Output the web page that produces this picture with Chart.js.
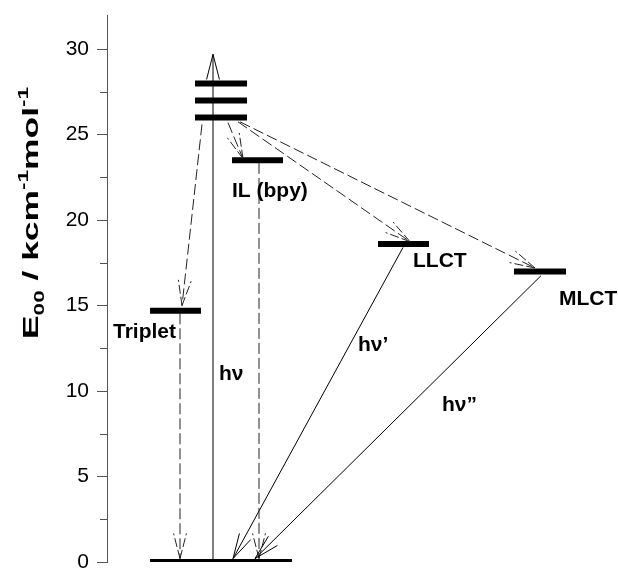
<!DOCTYPE html>
<html>
<head>
<meta charset="utf-8">
<script src="https://cdn.jsdelivr.net/npm/chart.js@4.4.0/dist/chart.umd.min.js"></script>
<style>
  html, body { margin: 0; padding: 0; background: #fff; }
  #wrap { width: 618px; height: 570px; }
</style>
</head>
<body>
<div id="wrap"><canvas id="levels"></canvas></div>
<script>
// energy levels: E00 in kcm-1mol-1, x is only horizontal placement (0..100)
const levelNames  = ['ground', 'S1', 'S2', 'S3', 'IL (bpy)', 'Triplet', 'LLCT', 'MLCT'];
const levelEnergy = [0, 26, 27, 28, 23.5, 14.7, 18.6, 17.0];
const levelFrom   = [8.6, 17.6, 17.6, 17.6, 25.0, 8.6, 54.2, 81.4];
const levelTo     = [37.0, 28.0, 28.0, 28.0, 35.2, 18.8, 64.4, 91.8];

// transitions between levels (start -> arrow tip)
const arrowFromX  = [21.2, 19.0, 24.2, 26.2, 26.6, 14.6, 30.4, 59.2, 86.8];
const arrowFromE  = [0, 25.6, 25.7, 25.75, 25.75, 14.55, 23.35, 18.4, 16.75];
const arrowToX    = [21.2, 15.0, 27.2, 60.6, 85.6, 14.6, 30.4, 25.2, 29.6];
const arrowToE    = [29.7, 15.0, 23.6, 18.74, 17.2, 0.2, 0.2, 0.2, 0.2];
const arrowDashed = [false, true, true, true, true, true, true, false, false];

// text next to levels and transitions
const labelText = ['IL (bpy)', 'LLCT', 'MLCT', 'Triplet', 'hν', 'hν’', 'hν”'];
const labelX    = [25.0, 61.2, 90.4, 1.2, 22.4, 50.2, 67.0];
const labelE    = [21.7, 17.6, 15.35, 13.43, 10.97, 12.67, 9.17];

const yTicks = [0, 5, 10, 15, 20, 25, 30];
const yMinor = [2.5, 7.5, 12.5, 17.5, 22.5, 27.5];

const FONT = '"Liberation Sans", Arial, sans-serif';

const datasets = [];
levelNames.forEach((name, i) => {
  datasets.push({
    label: name,
    data: [{ x: levelFrom[i], y: levelEnergy[i] }, { x: levelTo[i], y: levelEnergy[i] }],
    borderColor: '#000',
    borderWidth: 6,
    borderCapStyle: 'butt'
  });
});
arrowFromX.forEach((x0, i) => {
  datasets.push({
    label: 'arrow' + i,
    arrow: true,
    dashed: arrowDashed[i],
    data: [{ x: x0, y: arrowFromE[i] }, { x: arrowToX[i], y: arrowToE[i] }],
    borderColor: arrowDashed[i] ? '#222' : '#000',
    borderWidth: 1,
    borderDash: arrowDashed[i] ? [11, 4] : []
  });
});

// open V heads at the end of every transition
const arrowHeads = {
  id: 'arrowHeads',
  afterDatasetsDraw(chart) {
    const ctx = chart.ctx;
    chart.data.datasets.forEach((ds, i) => {
      if (!ds.arrow) return;
      const pts = chart.getDatasetMeta(i).data;
      const a = pts[0], b = pts[1];
      const ang = Math.atan2(b.y - a.y, b.x - a.x);
      const len = 26, spread = 0.25;
      ctx.save();
      ctx.strokeStyle = ds.borderColor;
      ctx.lineWidth = 1;
      ctx.setLineDash(ds.dashed ? [9, 3] : []);
      [-spread, spread].forEach(s => {
        ctx.beginPath();
        ctx.moveTo(b.x, b.y);
        ctx.lineTo(b.x - len * Math.cos(ang + s), b.y - len * Math.sin(ang + s));
        ctx.stroke();
      });
      ctx.restore();
    });
  }
};

// level / transition names, minor ticks and the rotated axis title
const extras = {
  id: 'extras',
  afterDraw(chart) {
    const ctx = chart.ctx;
    const xs = chart.scales.x, ys = chart.scales.y;
    ctx.save();
    ctx.fillStyle = '#000';
    ctx.font = 'bold 21px ' + FONT;
    ctx.textAlign = 'left';
    ctx.textBaseline = 'middle';
    labelText.forEach((t, i) => {
      ctx.fillText(t, xs.getPixelForValue(labelX[i]), ys.getPixelForValue(labelE[i]));
    });

    ctx.strokeStyle = '#555';
    ctx.lineWidth = 1;
    const left = chart.chartArea.left;
    yMinor.forEach(v => {
      const py = Math.round(ys.getPixelForValue(v)) + 0.5;
      ctx.beginPath();
      ctx.moveTo(left - 7, py);
      ctx.lineTo(left, py);
      ctx.stroke();
    });

    // E00 / kcm-1mol-1 ; 0 = normal, 1 = subscript, -1 = superscript
    const parts = [['E', 0], ['00', 1], [' / kcm', 0], ['-1', -1], ['mol', 0], ['-1', -1]];
    const big = 'bold 22px ' + FONT, small = 'bold 14px ' + FONT;
    let total = 0;
    parts.forEach(p => { ctx.font = p[1] ? small : big; p.push(ctx.measureText(p[0]).width); total += p[2]; });
    const stretch = 252 / total;
    ctx.translate(38, 213);
    ctx.rotate(-Math.PI / 2);
    ctx.scale(stretch, 1);
    ctx.textBaseline = 'alphabetic';
    let x = -total / 2;
    parts.forEach(p => {
      ctx.font = p[1] ? small : big;
      ctx.fillText(p[0], x, p[1] === 1 ? 6 : p[1] === -1 ? -10 : 0);
      x += p[2];
    });
    ctx.restore();
  }
};

new Chart(document.getElementById('levels').getContext('2d'), {
  type: 'line',
  data: { datasets },
  plugins: [arrowHeads, extras],
  options: {
    responsive: true,
    maintainAspectRatio: false,
    animation: false,
    layout: { padding: { top: 15, bottom: 8, left: 0, right: 11 } },
    elements: { point: { radius: 0, hoverRadius: 0 }, line: { tension: 0 } },
    plugins: { legend: { display: false }, tooltip: { enabled: false } },
    scales: {
      x: { type: 'linear', min: 0, max: 100, display: false },
      y: {
        type: 'linear',
        min: 0,
        max: 32,
        afterBuildTicks: s => { s.ticks = yTicks.map(v => ({ value: v })); },
        afterFit: s => { s.width = 107; s.paddingTop = 0; s.paddingBottom = 0; },
        ticks: { color: '#000', padding: 8, font: { family: FONT, size: 21 } },
        grid: { drawOnChartArea: false, tickLength: 10, color: '#555' },
        border: { color: '#555', width: 1 }
      }
    }
  }
});
</script>
</body>
</html>
